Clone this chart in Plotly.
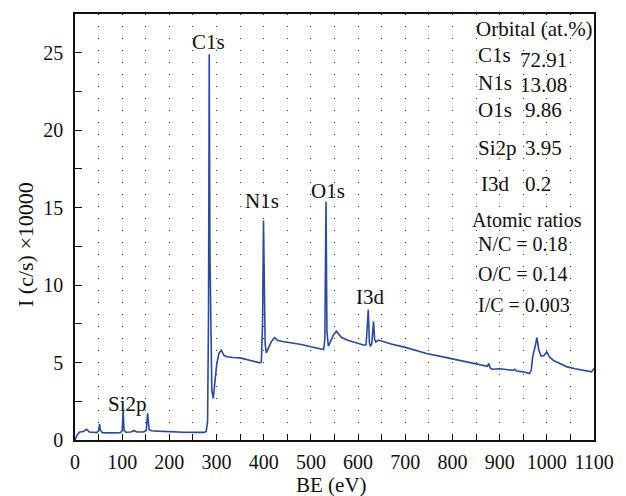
import plotly.graph_objects as go

# ---- data (BE in eV, intensity in c/s x 10000) ----
be = [0, 4, 10, 18, 25, 30, 38, 46, 50, 52, 54, 58, 70, 85, 96, 100, 102, 104, 108,
      118, 125, 132, 145, 151, 154, 157, 162, 175, 200, 230, 260, 274, 278, 281, 283,
      284.5, 286, 288, 290, 293, 296, 300, 305, 310, 316, 322, 335, 350, 370, 385,
      392, 395, 397.5, 399.5, 401, 403, 405.5, 410, 416, 423, 430, 440, 460, 480,
      500, 515, 523, 527, 529.5, 532, 534, 537, 542, 548, 554, 560, 565, 580, 600,
      613, 617, 621.6, 624, 626, 629, 632.7, 635, 637.6, 643, 648, 670, 700, 745,
      790, 830, 860, 870, 874, 877, 880, 884, 900, 925, 929, 932, 936, 950, 963,
      967, 970, 975, 979, 983, 988, 994, 1000, 1006, 1015, 1030, 1043, 1060, 1080,
      1095, 1100]
intensity = [0.0, 0.3, 0.52, 0.55, 0.69, 0.52, 0.5, 0.48, 0.6, 1.03, 0.62, 0.47,
             0.46, 0.45, 0.47, 0.6, 1.89, 0.62, 0.5, 0.52, 0.6, 0.52, 0.52, 0.62,
             1.72, 0.68, 0.6, 0.57, 0.53, 0.5, 0.49, 0.49, 0.55, 1.2, 8.0, 24.9,
             12.0, 5.0, 3.2, 2.68, 3.6, 4.8, 5.6, 5.8, 5.45, 5.37, 5.33, 5.3, 5.15,
             5.02, 4.98, 5.05, 7.5, 14.17, 9.0, 6.2, 5.62, 5.9, 6.35, 6.61, 6.42,
             6.36, 6.27, 6.17, 6.02, 5.92, 5.86, 5.84, 6.5, 15.39, 7.0, 6.05, 6.4,
             6.8, 7.02, 6.8, 6.61, 6.42, 6.25, 6.12, 6.15, 8.42, 6.3, 6.05, 6.2,
             7.66, 6.5, 6.33, 6.45, 6.4, 6.2, 5.98, 5.58, 5.3, 5.02, 4.85, 4.75,
             4.76, 4.94, 4.65, 4.57, 4.6, 4.51, 4.5, 4.57, 4.45, 4.4, 4.29, 4.5,
             5.37, 6.0, 6.61, 5.8, 5.41, 5.45, 5.69, 5.35, 5.11, 4.9, 4.72, 4.6,
             4.5, 4.4, 4.62]

peak_labels = ["C1s", "N1s", "O1s", "I3d", "Si2p"]
peak_label_be = [283, 397, 537, 626, 112]
peak_label_int = [25.7, 15.45, 16.1, 9.2, 2.3]

orbitals = ["C1s", "N1s", "O1s", "Si2p", "I3d"]
atomic_pct = ["72.91", "13.08", "9.86", "3.95", "0.2"]
ratio_labels = ["N/C = 0.18", "O/C = 0.14", "I/C = 0.003"]

x_ticks = list(range(0, 1101, 100))
y_ticks = [0, 5, 10, 15, 20, 25]

FONT = "Liberation Serif"
FS = 20
AFS = 21
TXT = "#111"
LINE_COLOR = "#2a48a8"


def txt(x, y, s, anchor="left", size=AFS):
    return dict(x=x, y=y, text=s, showarrow=False, xanchor=anchor,
                yanchor="middle", borderpad=0,
                font=dict(family=FONT, size=size, color=TXT))


fig = go.Figure()
fig.add_trace(go.Scatter(x=be, y=intensity, mode="lines",
                         line=dict(color=LINE_COLOR, width=1.6),
                         hoverinfo="skip", showlegend=False))

ann = []
for t, xx, yy in zip(peak_labels, peak_label_be, peak_label_int):
    ann.append(txt(xx, yy, t, anchor="center"))

# table block (positions in data units)
ann.append(txt(848, 26.56, "Orbital (at.%)"))
orb_y = [24.86, 23.05, 21.31, 18.87, 16.55]
pct_y = [24.53, 22.92, 21.31, 18.87, 16.55]
pct_x = [942, 942, 952, 952, 952]
for name, val, oy, py, px in zip(orbitals, atomic_pct, orb_y, pct_y, pct_x):
    ann.append(txt(852 if name != "I3d" else 858, oy, name))
    ann.append(txt(px, py, val))
ann.append(txt(840, 14.2, "Atomic ratios", size=20))
for r, ry in zip(ratio_labels, [12.65, 10.72, 8.69]):
    ann.append(txt(852, ry, r, size=20))

# axis titles
ann.append(dict(xref="paper", yref="paper", x=-0.0964, y=0.46,
                text="I (c/s) ×10000", textangle=-90, showarrow=False,
                xanchor="center", yanchor="middle", borderpad=0,
                font=dict(family=FONT, size=22, color=TXT)))
ann.append(dict(xref="paper", yref="paper", x=0.495, y=-0.105,
                text="BE (eV)", showarrow=False, borderpad=0,
                xanchor="center", yanchor="middle",
                font=dict(family=FONT, size=AFS, color=TXT)))

fig.update_layout(
    width=626, height=496,
    margin=dict(l=75, r=22, t=13, b=56),
    paper_bgcolor="white", plot_bgcolor="white",
    font=dict(family=FONT, size=FS, color=TXT),
    annotations=ann,
    xaxis=dict(range=[0, 1100], tickvals=x_ticks, ticks="inside", ticklen=6,
               tickwidth=1.2, tickcolor=TXT, showline=True, linecolor=TXT,
               linewidth=1.6, mirror=True, zeroline=False,
               showgrid=True, gridcolor="#333", gridwidth=1, griddash="1px,11px",
               minor=dict(dtick=50, ticks="inside", ticklen=6, tickwidth=1.2,
                          tickcolor=TXT, showgrid=True, gridcolor="#333",
                          gridwidth=1, griddash="1px,11px"),
               ticklabelstandoff=3,
               tickfont=dict(family=FONT, size=FS, color=TXT)),
    yaxis=dict(range=[0, 27.5], tickvals=y_ticks, ticks="inside", ticklen=7,
               tickwidth=1.2, tickcolor=TXT, showline=True, linecolor=TXT,
               linewidth=1.6, mirror=True, zeroline=False, showgrid=False,
               minor=dict(dtick=2.5, ticks="inside", ticklen=7, tickwidth=1.2,
                          tickcolor=TXT),
               ticklabelstandoff=6,
               tickfont=dict(family=FONT, size=FS, color=TXT)),
)

fig.write_html("out.html")
